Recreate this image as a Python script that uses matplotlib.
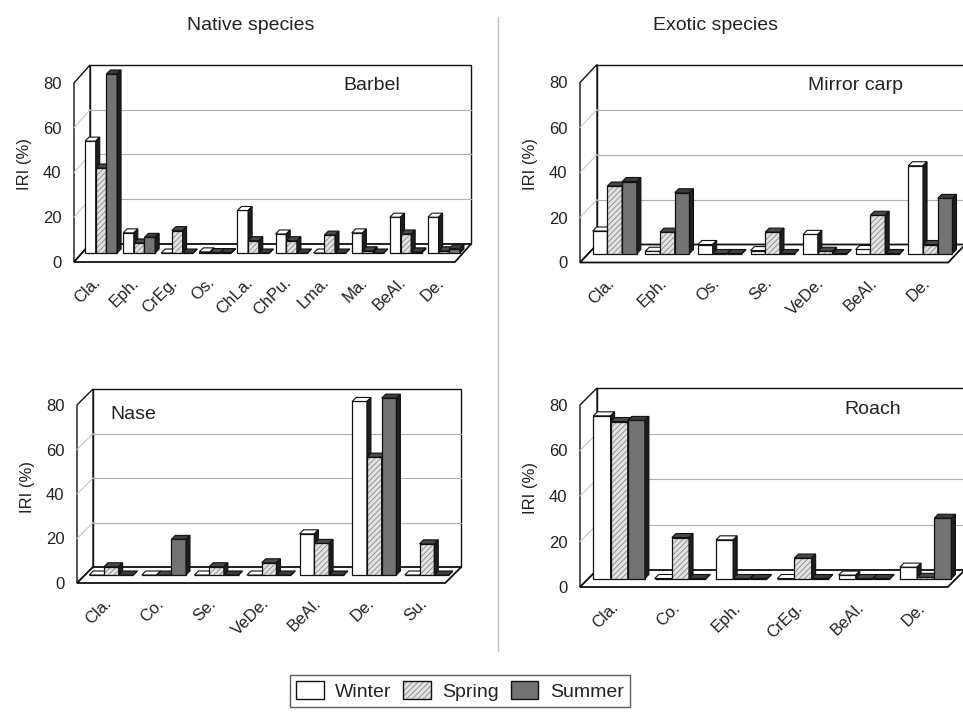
import matplotlib
matplotlib.use("Agg")
import matplotlib.pyplot as plt
from matplotlib.patches import Polygon, Patch
from matplotlib.legend_handler import HandlerTuple

plt.rcParams['font.family'] = ['Liberation Sans', 'DejaVu Sans']
plt.rcParams['hatch.linewidth'] = 0.6

# ---- data (IRI %) ----
barbel_cats = ['Cla.', 'Eph.', 'CrEg.', 'Os.', 'ChLa.', 'ChPu.', 'Lma.', 'Ma.', 'BeAl.', 'De.']
barbel_winter = [50, 9, 0, 0.5, 19, 8.5, 0, 9, 16, 16]
barbel_spring = [38, 4.5, 10, 0.2, 5.5, 5.5, 8, 1, 8.5, 1]
barbel_summer = [80, 7, 0, 0.2, 0, 0, 0, 0, 0.5, 2]

carp_cats = ['Cla.', 'Eph.', 'Os.', 'Se.', 'VeDe.', 'BeAl.', 'De.']
carp_winter = [10, 1, 4, 1.3, 8.5, 1.8, 39]
carp_spring = [30, 9.5, 0, 9.5, 1, 17, 4]
carp_summer = [32, 27, 0, 0, 0, 0, 24.5]

nase_cats = ['Cla.', 'Co.', 'Se.', 'VeDe.', 'BeAl.', 'De.', 'Su.']
nase_winter = [0, 0, 0, 0, 18.5, 78, 0]
nase_spring = [3.7, 0, 3.7, 5.5, 14.2, 53, 14]
nase_summer = [0, 16, 0, 0, 0, 79.5, 0]

roach_cats = ['Cla.', 'Co.', 'Eph.', 'CrEg.', 'BeAl.', 'De.']
roach_winter = [71.5, 0, 17, 0, 1.5, 5]
roach_spring = [69, 18, 0, 9, 0, 0.5]
roach_summer = [69.5, 0, 0, 0, 0, 26.5]

seasons = ['Winter', 'Spring', 'Summer']
yticks = [0, 20, 40, 60, 80]

W, H = 963, 712
fig = plt.figure(figsize=(W / 100, H / 100), dpi=100)

face = {'Winter': 'white', 'Spring': '#e2e2e2', 'Summer': '#737373'}
topc = {'Winter': 'white', 'Spring': '#4a4a4a', 'Summer': '#3c3c3c'}
TXT = '#222222'


def panel(cats, winter, spring, summer, x0, y0, ppc, ppu, ddx, ddy, name, nx, ny):
    n = len(cats)
    DX = ddx / ppc
    DY = ddy / ppu
    bw = 0.28
    bdx = 4 / ppc
    bdy = 4 / ppu
    xmin, xmax = -0.5, n - 0.5 + DX + 0.1
    ymin, ymax = -2.0, 80 + DY + 1.5
    left = x0
    right = x0 + (xmax - xmin) * ppc
    bottom = y0 - ymin * ppu
    top = y0 - ymax * ppu
    ax = fig.add_axes([left / W, 1 - bottom / H, (right - left) / W, (bottom - top) / H])
    ax.set_xlim(xmin, xmax)
    ax.set_ylim(ymin, ymax)
    for s in ax.spines.values():
        s.set_visible(False)
    ax.patch.set_alpha(0)

    # back wall, side wall, floor
    L, R = -0.5, n - 0.5
    ax.add_patch(Polygon([(L + DX, DY), (R + DX, DY), (R + DX, 80 + DY), (L + DX, 80 + DY)],
                         closed=True, fc='white', ec='#111', lw=1.0, zorder=1, clip_on=False))
    ax.add_patch(Polygon([(L, 0), (L + DX, DY), (L + DX, 80 + DY), (L, 80)],
                         closed=True, fc='white', ec='#111', lw=1.0, zorder=1, clip_on=False))
    for v in yticks[1:-1]:
        ax.plot([L + DX, R + DX], [v + DY, v + DY], color='#b0b0b0', lw=0.8, zorder=1.5, clip_on=False)
        ax.plot([L, L + DX], [v, v + DY], color='#c8c8c8', lw=0.8, zorder=1.5, clip_on=False)
    ax.add_patch(Polygon([(L, 0), (R, 0), (R + DX, DY), (L + DX, DY)],
                         closed=True, fc='white', ec='#111', lw=1.3, zorder=2, clip_on=False))

    # bars, drawn at mid depth
    base = DY / 2
    for j, (season, vals) in enumerate(zip(seasons, [winter, spring, summer])):
        xs = [i + (j - 1) * bw + DX / 2 for i in range(n)]
        z = 3 + j
        if season == 'Spring':
            ax.bar(xs, vals, bw, bottom=base, color=face[season], edgecolor='#8a8a8a',
                   hatch='//////', linewidth=0, zorder=z)
            ax.bar(xs, vals, bw, bottom=base, color='none', edgecolor='#111', linewidth=0.9, zorder=z)
        else:
            ax.bar(xs, vals, bw, bottom=base, color=face[season], edgecolor='#111',
                   linewidth=0.9, zorder=z)
        for x, v in zip(xs, vals):
            xl, xr = x - bw / 2, x + bw / 2
            t = base + v
            ax.add_patch(Polygon([(xl, t), (xr, t), (xr + bdx, t + bdy), (xl + bdx, t + bdy)],
                                 closed=True, fc=topc[season], ec='#111', lw=0.8, zorder=z))
            ax.add_patch(Polygon([(xr, base), (xr + bdx, base + bdy), (xr + bdx, t + bdy), (xr, t)],
                                 closed=True, fc='#1e1e1e', ec='#111', lw=0.8, zorder=z))

    ax.set_yticks(yticks)
    ax.set_yticklabels([str(v) for v in yticks], fontsize=12, color=TXT)
    ax.set_xticks(range(n))
    ax.set_xticklabels(cats, fontsize=12, color=TXT, rotation=45, ha='right',
                       rotation_mode='anchor')
    ax.tick_params(axis='y', length=0, pad=9)
    ax.tick_params(axis='x', length=0, pad=6)
    ax.set_ylabel('IRI (%)', fontsize=12, color=TXT, labelpad=8)
    fig.text(nx / W, 1 - ny / H, name, fontsize=14, color=TXT, ha='center', va='center')
    return ax


panel(barbel_cats, barbel_winter, barbel_spring, barbel_summer,
      74, 262, 38.1, 2.2375, 16, 18, 'Barbel', 372, 86)
panel(carp_cats, carp_winter, carp_spring, carp_summer,
      580, 262.5, 52.6, 2.25, 17, 18, 'Mirror carp', 855, 85)
panel(nase_cats, nase_winter, nase_spring, nase_summer,
      77, 583, 52.6, 2.225, 16, 16, 'Nase', 133, 415)
panel(roach_cats, roach_winter, roach_spring, roach_summer,
      580, 587, 61.3, 2.275, 17, 17, 'Roach', 873, 409)

fig.text(251 / W, 1 - 26 / H, 'Native species', fontsize=14, color=TXT, ha='center', va='center')
fig.text(715 / W, 1 - 26 / H, 'Exotic species', fontsize=14, color=TXT, ha='center', va='center')

# separator between native and exotic columns
fig.add_artist(plt.Line2D([498 / W, 498 / W], [1 - 17 / H, 1 - 651 / H], color='#c0c0c0', lw=1.0))

handles = [Patch(fc='white', ec='#111', lw=1.0),
           (Patch(fc='#e2e2e2', ec='#8a8a8a', hatch='//////', lw=0),
            Patch(fc='none', ec='#111', lw=1.0)),
           Patch(fc='#737373', ec='#111', lw=1.0)]
leg = fig.legend(handles, seasons, handler_map={tuple: HandlerTuple(ndivide=1)},
                 loc='center', bbox_to_anchor=(460 / W, 1 - 691 / H), ncol=3,
                 fontsize=14, frameon=True, fancybox=False, edgecolor='#333',
                 handlelength=1.4, handleheight=1.0, columnspacing=0.6, handletextpad=0.6,
                 borderpad=0.35, borderaxespad=0)
leg.get_frame().set_linewidth(1.0)
for t in leg.get_texts():
    t.set_color(TXT)

fig.savefig('out.png', dpi=100)
